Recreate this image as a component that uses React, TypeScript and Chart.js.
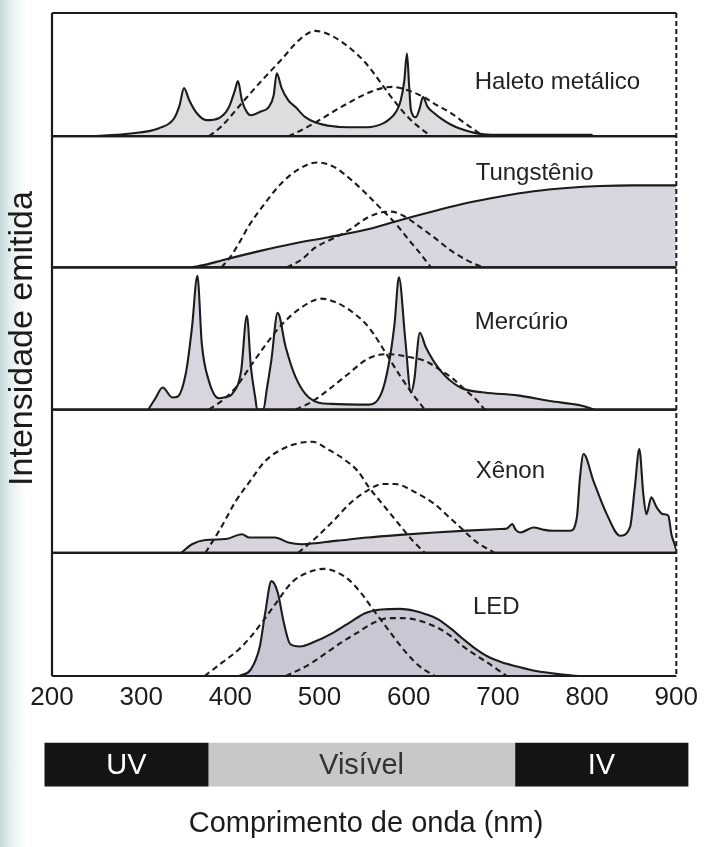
import React, { useEffect, useRef } from "react";
import { Chart, registerables } from "chart.js";

Chart.register(...registerables);

type Pt = [number, number];

// ---------- data (wavelength nm, relative intensity within each panel) ----------
const wavelengthTicks = [200, 300, 400, 500, 600, 700, 800, 900];
const panelNames = ["Haleto metálico", "Tungstênio", "Mercúrio", "Xênon", "LED"];

const haletoSpectrum: Pt[] = [
  [245, 0], [285, 0.02], [320, 0.065], [337, 0.146], [343, 0.25], [348, 0.39], [354, 0.29], [362, 0.19],
  [373, 0.13], [387, 0.146], [398, 0.23], [405, 0.37], [408.5, 0.447], [413, 0.29], [418.5, 0.195],
  [423, 0.17], [434, 0.2], [443, 0.236], [448.5, 0.33], [452, 0.51], [457.5, 0.39], [465, 0.29],
  [473, 0.236], [484, 0.155], [495, 0.114], [515, 0.08], [532, 0.073], [554, 0.073], [570, 0.1],
  [577, 0.13], [586, 0.2], [591, 0.29], [595, 0.45], [598, 0.67], [600.5, 0.4], [602.5, 0.21],
  [608, 0.155], [612, 0.22], [616, 0.317], [621, 0.24], [628, 0.19], [636, 0.145], [647, 0.095],
  [658, 0.06], [675, 0.025], [692, 0.012], [805, 0.012], [806, 0],
];
const haletoDashA: Pt[] = [
  [376, 0], [390, 0.08], [413, 0.27], [435, 0.45], [457, 0.62], [477, 0.78], [495, 0.855], [515, 0.81],
  [535, 0.71], [551, 0.6], [565, 0.47], [577, 0.35], [590, 0.23], [599, 0.155], [612, 0.07], [625, 0],
];
const haletoDashB: Pt[] = [
  [465, 0], [480, 0.05], [495, 0.11], [525, 0.24], [554, 0.35], [570, 0.39], [582, 0.4], [600, 0.37],
  [616, 0.32], [632, 0.25], [647, 0.19], [662, 0.11], [674, 0.05], [683, 0],
];

const tungstenSpectrum: Pt[] = [
  [357, 0], [375, 0.025], [391, 0.054], [430, 0.12], [470, 0.18], [510, 0.23], [554, 0.29], [590, 0.36],
  [629, 0.43], [665, 0.49], [703, 0.54], [740, 0.58], [777, 0.605], [815, 0.62], [852, 0.625], [900, 0.625],
];
const tungstenDashA: Pt[] = [
  [390, 0], [400, 0.08], [411, 0.2], [421, 0.32], [440, 0.5], [457, 0.64], [477, 0.75], [497, 0.8],
  [515, 0.77], [535, 0.67], [554, 0.55], [570, 0.44], [585, 0.336], [600, 0.21], [610, 0.13], [625, 0],
];
const tungstenDashB: Pt[] = [
  [463, 0], [480, 0.06], [495, 0.15], [515, 0.22], [532, 0.28], [554, 0.38], [570, 0.42], [580, 0.425],
  [595, 0.39], [610, 0.32], [628, 0.23], [647, 0.13], [665, 0.055], [683, 0],
];

const mercurySpectrum: Pt[] = [
  [308, 0], [316, 0.08], [324, 0.155], [335, 0.085], [340.5, 0.09], [350.5, 0.27], [357, 0.58], [363, 0.94],
  [368, 0.46], [376, 0.2], [387, 0.08], [396, 0.09], [402, 0.11], [412, 0.27], [418.5, 0.66], [423, 0.3],
  [428, 0.08], [430, 0], [437, 0], [441, 0.15], [446, 0.35], [453, 0.68], [462, 0.44], [473, 0.23],
  [488, 0.085], [513, 0.04], [555, 0.035], [569, 0.11], [577, 0.3], [584, 0.6], [589, 0.93], [596, 0.5],
  [602.5, 0.12], [606, 0.2], [612.5, 0.54], [619, 0.44], [636, 0.27], [658, 0.155], [685, 0.12],
  [722, 0.1], [758, 0.06], [792, 0.03], [808, 0],
];
const mercuryDashA: Pt[] = [
  [376, 0], [392, 0.07], [406, 0.155], [422, 0.3], [440, 0.46], [458, 0.6], [480, 0.72], [502, 0.78],
  [520, 0.75], [540, 0.67], [555, 0.58], [577, 0.37], [590, 0.24], [602, 0.13], [618, 0],
];
const mercuryDashB: Pt[] = [
  [473, 0], [490, 0.05], [510, 0.14], [530, 0.24], [555, 0.36], [577, 0.39], [600, 0.37], [619, 0.34],
  [635, 0.28], [647, 0.23], [665, 0.13], [677, 0.06], [685, 0],
];

const xenonSpectrum: Pt[] = [
  [345, 0], [357, 0.06], [372, 0.09], [395, 0.096], [413, 0.13], [421, 0.107], [450, 0.107], [465, 0.072],
  [480, 0.06], [520, 0.085], [554, 0.107], [590, 0.125], [629, 0.142], [665, 0.155], [703, 0.166],
  [710, 0.17], [716, 0.2], [720, 0.16], [725, 0.142], [740, 0.177], [752, 0.16], [763, 0.154], [781, 0.154],
  [788.5, 0.247], [792, 0.527], [796, 0.69], [807, 0.503], [822, 0.27], [837, 0.119], [848, 0.177],
  [853.5, 0.457], [858.5, 0.725], [863, 0.41], [866.5, 0.27], [872, 0.387], [878, 0.317], [885, 0.27],
  [891, 0.26], [894.5, 0.13], [898, 0.06], [900, 0.02],
];
const xenonDashA: Pt[] = [
  [372, 0], [388, 0.16], [406, 0.36], [422, 0.5], [439, 0.64], [460, 0.73], [480, 0.77], [492, 0.775],
  [510, 0.72], [528, 0.65], [543, 0.57], [555, 0.46], [572, 0.33], [592, 0.177], [605, 0.08], [618, 0],
];
const xenonDashB: Pt[] = [
  [476, 0], [495, 0.1], [515, 0.22], [535, 0.35], [555, 0.44], [570, 0.48], [585, 0.48], [605, 0.43],
  [629, 0.34], [645, 0.25], [658, 0.177], [675, 0.08], [696, 0],
];

const ledSpectrum: Pt[] = [
  [410, 0], [423, 0.054], [433, 0.24], [439, 0.51], [446, 0.77], [453, 0.68], [460, 0.43], [467, 0.26],
  [478, 0.24], [495, 0.28], [515, 0.35], [535, 0.44], [551, 0.51], [569, 0.54], [590, 0.545], [606, 0.53],
  [620, 0.5], [633, 0.46], [648, 0.38], [661, 0.3], [675, 0.22], [688, 0.16], [705, 0.11], [720, 0.08],
  [743, 0.04], [770, 0.014], [790, 0],
];
const ledDashA: Pt[] = [
  [371, 0], [391, 0.11], [410, 0.22], [423, 0.32], [437, 0.45], [451, 0.59], [469, 0.76], [487, 0.84],
  [505, 0.87], [520, 0.84], [533, 0.78], [548, 0.66], [560, 0.54], [574, 0.405], [597, 0.19], [612, 0.08],
  [629, 0],
];
const ledDashB: Pt[] = [
  [462, 0], [477, 0.05], [492, 0.11], [508, 0.19], [524, 0.27], [542, 0.35], [560, 0.43], [578, 0.47],
  [592, 0.47], [606, 0.46], [620, 0.43], [633, 0.39], [648, 0.32], [661, 0.24], [675, 0.17], [688, 0.11],
  [700, 0.05], [710, 0],
];

const bandNames = ["UV", "Visível", "IV"];
const bandRanges: Pt[] = [[192, 374], [374, 716], [716, 909]];

const axisTitleX = "Comprimento de onda (nm)";
const axisTitleY = "Intensidade emitida";

// ---------- layout / style (not data) ----------
const FONT = "'Liberation Sans', Arial, Helvetica, sans-serif";
const INK = "#1c1c1c";
const PANEL_WEIGHTS = [123, 131, 142, 143, 123];
const LABEL_ANCHORS: Pt[] = [[674, 0.44], [675, 0.72], [674, 0.61], [675, 0.57], [672, 0.56]];
const FILLS = [
  "rgba(200,200,204,0.62)",
  "rgba(190,186,200,0.6)",
  "rgba(190,182,200,0.58)",
  "rgba(188,184,198,0.6)",
  "rgba(176,172,190,0.68)",
];
const BAND_COLORS = ["#141414", "#c8c8c9", "#141414"];
const BAND_TEXT = ["#ffffff", "#333333", "#ffffff"];

const panelSeries = [
  { s: haletoSpectrum, a: haletoDashA, b: haletoDashB },
  { s: tungstenSpectrum, a: tungstenDashA, b: tungstenDashB },
  { s: mercurySpectrum, a: mercuryDashA, b: mercuryDashB },
  { s: xenonSpectrum, a: xenonDashA, b: xenonDashB },
  { s: ledSpectrum, a: ledDashA, b: ledDashB },
];

const toXY = (pts: Pt[]) => pts.map(([x, y]) => ({ x, y }));

const framePlugin = {
  id: "panelFrames",
  afterDatasetsDraw(chart: any) {
    const { ctx, chartArea } = chart;
    const xs = chart.scales.x;
    ctx.save();
    ctx.strokeStyle = INK;
    ctx.lineWidth = 2.2;
    panelNames.forEach((_, i) => {
      const sc = chart.scales[`p${i}`];
      [sc.top, sc.bottom].forEach((yy: number) => {
        ctx.beginPath();
        ctx.moveTo(chartArea.left, yy);
        ctx.lineTo(chartArea.right, yy);
        ctx.stroke();
      });
    });
    ctx.beginPath();
    ctx.moveTo(chartArea.left, chartArea.top);
    ctx.lineTo(chartArea.left, chartArea.bottom);
    ctx.stroke();
    const xr = xs.getPixelForValue(900);
    ctx.setLineDash([5, 3]);
    ctx.lineWidth = 2;
    ctx.beginPath();
    ctx.moveTo(xr, chartArea.top);
    ctx.lineTo(xr, chartArea.bottom);
    ctx.stroke();
    ctx.setLineDash([]);
    // panel names
    ctx.fillStyle = "#222";
    ctx.font = `24px ${FONT}`;
    ctx.textAlign = "left";
    ctx.textBaseline = "middle";
    panelNames.forEach((name, i) => {
      const sc = chart.scales[`p${i}`];
      const [nm, v] = LABEL_ANCHORS[i];
      ctx.fillText(name, xs.getPixelForValue(nm), sc.getPixelForValue(v));
    });
    ctx.restore();
  },
};

const bandLabelPlugin = {
  id: "bandLabels",
  afterDatasetsDraw(chart: any) {
    const { ctx } = chart;
    ctx.save();
    ctx.font = `29px ${FONT}`;
    ctx.textAlign = "center";
    ctx.textBaseline = "middle";
    bandNames.forEach((name, i) => {
      const el: any = chart.getDatasetMeta(i).data[0];
      if (!el) return;
      ctx.fillStyle = BAND_TEXT[i];
      ctx.fillText(name, (el.x + el.base) / 2, el.y + 1);
    });
    ctx.restore();
  },
};

export default function App() {
  const mainRef = useRef<HTMLCanvasElement | null>(null);
  const bandRef = useRef<HTMLCanvasElement | null>(null);

  useEffect(() => {
    const datasets: any[] = [];
    panelSeries.forEach((p, i) => {
      const yAxisID = `p${i}`;
      [p.a, p.b].forEach((d) => {
        datasets.push({
          data: toXY(d),
          yAxisID,
          xAxisID: "x",
          borderColor: INK,
          borderWidth: 2.1,
          borderDash: [6, 4],
          pointRadius: 0,
          fill: false,
          cubicInterpolationMode: "monotone",
          order: 0,
        });
      });
      datasets.push({
        data: toXY(p.s),
        yAxisID,
        xAxisID: "x",
        borderColor: INK,
        borderWidth: 2.1,
        pointRadius: 0,
        fill: "origin",
        backgroundColor: FILLS[i],
        cubicInterpolationMode: "monotone",
        order: 1,
      });
    });

    const scales: any = {
      x: {
        type: "linear",
        position: "bottom",
        min: 200,
        max: 900,
        afterBuildTicks: (s: any) => {
          s.ticks = wavelengthTicks.map((v) => ({ value: v }));
        },
        ticks: {
          font: { family: FONT, size: 26 },
          color: INK,
          padding: 6,
          maxRotation: 0,
          autoSkip: false,
        },
        grid: { display: false, drawTicks: false },
        border: { display: false },
      },
    };
    panelNames.forEach((_, i) => {
      scales[`p${i}`] = {
        type: "linear",
        position: "left",
        stack: "panels",
        stackWeight: PANEL_WEIGHTS[i],
        weight: 10 - i,
        min: 0,
        max: 1,
        ticks: { display: false },
        grid: { display: false, drawTicks: false },
        border: { display: false },
        title:
          i === 2
            ? {
                display: true,
                text: axisTitleY,
                font: { family: FONT, size: 34 },
                color: INK,
                padding: { top: 0, bottom: 9 },
              }
            : { display: false },
      };
    });

    const main = new Chart(mainRef.current as HTMLCanvasElement, {
      type: "line",
      data: { datasets },
      options: {
        responsive: false,
        animation: false,
        events: [],
        layout: { padding: { top: 13, left: 2.2, right: 24, bottom: 2.8 } },
        scales,
        plugins: {
          legend: { display: false },
          tooltip: { enabled: false },
        },
      } as any,
      plugins: [framePlugin],
    });

    const band = new Chart(bandRef.current as HTMLCanvasElement, {
      type: "bar",
      data: {
        labels: ["espectro"],
        datasets: bandNames.map((n, i) => ({
          label: n,
          data: [bandRanges[i]],
          backgroundColor: BAND_COLORS[i],
          borderWidth: 0,
          grouped: false,
          barPercentage: 1,
          categoryPercentage: 1,
          clip: false,
        })) as any,
      },
      options: {
        indexAxis: "y",
        responsive: false,
        animation: false,
        events: [],
        layout: { padding: { left: 52, right: 24, top: 8, bottom: 0 } },
        scales: {
          x: {
            type: "linear",
            min: 200,
            max: 900,
            ticks: { display: false },
            grid: { display: false, drawTicks: false },
            border: { display: false },
            title: {
              display: true,
              text: axisTitleX,
              font: { family: FONT, size: 29 },
              color: INK,
              padding: { top: 20, bottom: 0 },
            },
          },
          y: { display: false },
        },
        plugins: {
          legend: { display: false },
          tooltip: { enabled: false },
        },
      } as any,
      plugins: [bandLabelPlugin],
    });

    return () => {
      main.destroy();
      band.destroy();
    };
  }, []);

  return (
    <div
      style={{
        position: "absolute",
        left: 0,
        top: 0,
        width: 704,
        height: 847,
        overflow: "hidden",
        background: "linear-gradient(90deg, #c4d8da 0px, #e4eeef 10px, #ffffff 26px)",
      }}
    >
      <canvas
        ref={mainRef}
        width={704}
        height={722}
        style={{ position: "absolute", left: 0, top: 0, width: 704, height: 722, display: "block" }}
      />
      <canvas
        ref={bandRef}
        width={704}
        height={106}
        style={{ position: "absolute", left: 0, top: 735, width: 704, height: 106, display: "block" }}
      />
    </div>
  );
}
